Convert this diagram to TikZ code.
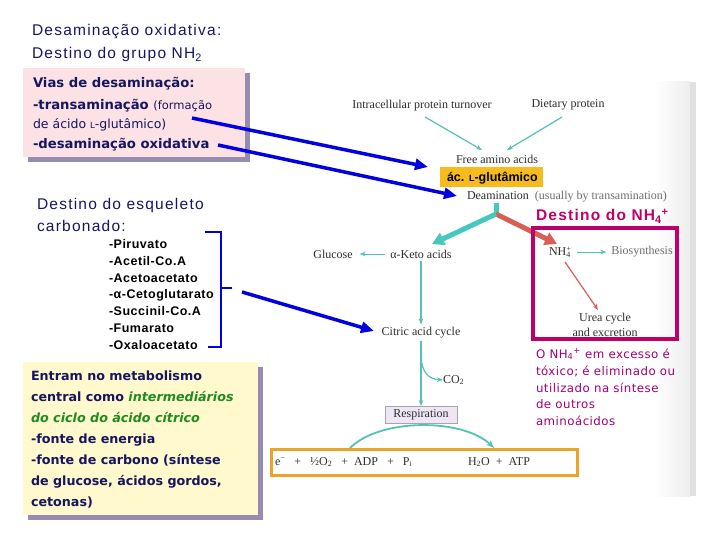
\documentclass[tikz,border=0pt]{standalone}
\usepackage{fontspec}
\setmainfont{Liberation Serif}
\newfontfamily\arialsp{Liberation Sans}[LetterSpace=8]
\newfontfamily\ariallst{Liberation Sans}[LetterSpace=4]
\newfontfamily\arialf{Liberation Sans}
\newfontfamily\comicf{DejaVu Sans}
\newfontfamily\comicsp{DejaVu Sans}[LetterSpace=4]
\usetikzlibrary{arrows.meta}
\definecolor{navy}{RGB}{22,22,96}
\definecolor{pinkfill}{RGB}{252,226,228}
\definecolor{shad}{RGB}{150,140,178}
\definecolor{yelfill}{RGB}{255,249,205}
\definecolor{bluearr}{RGB}{0,0,225}
\definecolor{grn}{RGB}{30,140,30}
\definecolor{tealc}{RGB}{85,192,180}
\definecolor{tealthick}{RGB}{70,200,190}
\definecolor{redc}{RGB}{215,95,85}
\definecolor{goldfill}{RGB}{246,188,30}
\definecolor{orangeb}{RGB}{234,165,40}
\definecolor{magb}{RGB}{190,0,105}
\definecolor{magt}{RGB}{160,0,120}
\definecolor{lav}{RGB}{238,230,244}
\definecolor{scant}{RGB}{45,45,45}
\definecolor{scanl}{RGB}{110,110,110}
\begin{document}
\begin{tikzpicture}[x=1pt,y=-1pt,
  every node/.style={inner sep=0pt, outer sep=0pt},
  ttl/.style={anchor=base west, font=\arialsp\fontsize{15.5}{17}\selectfont, text=navy},
  lst/.style={anchor=base west, font=\ariallst\bfseries\fontsize{12.5}{14}\selectfont, text=black},
  cmb/.style={anchor=base west, font=\comicf\bfseries\fontsize{13.2}{15}\selectfont, text=navy},
  ymb/.style={anchor=base west, font=\comicf\bfseries\fontsize{12.7}{15}\selectfont, text=navy},
  cmr/.style={anchor=base west, font=\comicf\fontsize{12.5}{14}\selectfont, text=navy},
  mt/.style={anchor=base west, font=\comicsp\fontsize{11.8}{13}\selectfont, text=magt},
  sc/.style={font=\fontsize{12}{13}\selectfont, text=scant},
  bluearrow/.style={draw=bluearr, line width=3.5pt, -{Triangle[length=13pt,width=11pt]}},
  tealthin/.style={draw=tealc, line width=1.2pt, -{Stealth[length=6pt,width=4.5pt]}},
  thickarr/.style={line width=5pt, -{Triangle[length=12pt,width=13pt]}}
]
\useasboundingbox (0,0) rectangle (720,540);
\fill[white] (0,0) rectangle (720,540);
% scan background edge
\shade[left color=white, right color=gray!14] (655,82) rectangle (690,496);
\fill[gray!24] (690,82) rectangle (696,496);

% title
\node[ttl] (t1) at (32,36) {Desaminação oxidativa:};
\node[ttl] (t2) at (32,59) {Destino do grupo NH\textsubscript{2}};

% pink box
\fill[shad] (28,73) rectangle (250,162);
\fill[pinkfill] (23,68) rectangle (245,157);
\node[cmb] (v1) at (33,88) {Vias de desaminação:};
\node[cmb] (v2) at (33,110) {-transaminação\ {\mdseries\fontsize{11.5}{13}\selectfont (formação}};
\node[cmr] (v3) at (33,129) {de ácido {\fontsize{8.5}{9}\selectfont L}-glutâmico)};
\node[cmb] (v4) at (33,149) {-desaminação oxidativa};

% esqueleto
\node[ttl] (e1) at (37,210) {Destino do esqueleto};
\node[ttl] (e2) at (37,232) {carbonado:};
\node[lst] (l1) at (109,248) {-Piruvato};
\node[lst] (l2) at (109,265) {-Acetil-Co.A};
\node[lst] (l3) at (109,282) {-Acetoacetato};
\node[lst] (l4) at (109,298) {-α-Cetoglutarato};
\node[lst] (l5) at (109,315) {-Succinil-Co.A};
\node[lst] (l6) at (109,332) {-Fumarato};
\node[lst] (l7) at (109,349) {-Oxaloacetato};
\draw[bluearr, line width=2.5pt] (205,232) -- (221,232) -- (221,347) -- (208,347);
\draw[bluearr, line width=2.5pt] (221,288) -- (232,288);

% yellow box
\fill[shad] (28,367) rectangle (263,520);
\fill[yelfill] (23,362) rectangle (258,515);
\node[ymb] (y1) at (31,380) {Entram no metabolismo};
\node[ymb] (y2) at (31,401) {central como {\color{grn}\itshape intermediários}};
\node[ymb, text=grn] (y3) at (31,422) {\itshape do ciclo do ácido cítrico};
\node[ymb] (y4) at (31,443) {-fonte de energia};
\node[ymb] (y5) at (31,464) {-fonte de carbono (síntese};
\node[ymb] (y6) at (31,485) {de glucose, ácidos gordos,};
\node[ymb] (y7) at (31,506) {cetonas)};

% scanned diagram
\node[sc] (ipt) at (422,106) {Intracellular protein turnover};
\node[sc] (dp) at (568,105) {Dietary protein};
\coordinate (ipts) at (425,117);
\coordinate (dps) at (562,117);
\coordinate (faal) at (482,150);
\coordinate (faar) at (507,150);
\draw[tealthin] (ipts) -- (faal);
\draw[tealthin] (dps) -- (faar);
\node[sc] (faa) at (497,159) {Free amino acids};
\fill[goldfill] (440,167) rectangle (543,187);
\node[anchor=base west, font=\arialf\bfseries\fontsize{12.5}{14}\selectfont] (glu) at (447,182) {ác. {\fontsize{9}{10}\selectfont L}-glutâmico};
\node[sc, anchor=base west] (deam) at (467,200) {Deamination\ \ {\color{scanl}(usually by transamination)}};
\coordinate (stub) at (496,203);
\coordinate (split) at (496,214);
\coordinate (ketotip) at (432,244);
\coordinate (nhtip) at (557,244);
\draw[tealthick, line width=5pt] (stub) -- (split);
\draw[thickarr, draw=redc, color=redc] (split) -- (nhtip);
\draw[thickarr, draw=tealthick, color=tealthick] (split) -- (ketotip);

\node[sc] (gluc) at (333,254) {Glucose};
\node[sc] (keto) at (421,254) {α-Keto acids};
\draw[tealthin, line width=0.9pt, shorten <=5pt, shorten >=7pt] (keto.west) -- (gluc.east);
\node[sc] (cac) at (421,333) {Citric acid cycle};
\draw[tealthin, shorten <=3pt, shorten >=3pt] (keto.south) -- (cac.north);
\node[sc, draw=gray!70, fill=lav, minimum width=72pt, minimum height=17pt] (resp) at (421,414.5) {Respiration};
\draw[tealthin, shorten <=3pt] (cac.south) -- (resp.north);
\node[sc, anchor=west] (co2) at (443,380) {CO\textsubscript{2}};
\coordinate (br) at (421,357);
\draw[tealthin] (br) .. controls (422,372) and (428,379) .. (co2.west);

\draw[orangeb, line width=3pt] (271,449) rectangle (577,475);
\node[sc, anchor=west] (eql) at (275,462) {e\textsuperscript{−}\ \ \ +\ \ \ ½O\textsubscript{2}\ \ \ +\ \ ADP\ \ \ +\ \ \ P\textsubscript{i}};
\node[sc, anchor=west] (eqr) at (468,462) {H\textsubscript{2}O\ \ +\ \ ATP};
\coordinate (arcs) at (350,448);
\coordinate (arce) at (494,448);
\draw[tealc, line width=1.8pt, -{Stealth[length=8pt,width=6pt]}] (arcs) .. controls (380,418) and (463,418) .. (arce);

% NH4 box
\node[anchor=base west, font=\arialsp\bfseries\fontsize{15.5}{17}\selectfont, text=magb] (dnh) at (536,221) {Destino do NH\textsubscript{4}\textsuperscript{+}};
\draw[magb, line width=3.5pt] (533,228) rectangle (677,339);
\node[sc, anchor=west] (nh4) at (549,252) {NH\makebox[0pt][l]{\textsuperscript{+}}\textsubscript{4}\hspace{1pt}};
\node[sc, text=scanl] (bio) at (642,252) {Biosynthesis};
\draw[tealthin, line width=0.8pt, shorten <=6pt, shorten >=5pt] (nh4.east) -- (bio.west);
\coordinate (nhs) at (565,262);
\coordinate (ureat) at (598,310);
\draw[redc, line width=1.2pt, -{Stealth[length=6pt,width=4.5pt]}] (nhs) -- (ureat);
\node[sc] (urea1) at (605,319) {Urea cycle};
\node[sc] (urea2) at (605,332) {and excretion};

\node[mt] (m1) at (536,358) {O NH\textsubscript{4}\textsuperscript{+} em excesso é};
\node[mt] (m2) at (536,375) {tóxico; é eliminado ou};
\node[mt] (m3) at (536,392) {utilizado na síntese};
\node[mt] (m4) at (536,408) {de outros};
\node[mt] (m5) at (536,425) {aminoácidos};

% blue arrows
\coordinate (a1s) at (192,118);
\coordinate (a1e) at (428,167);
\coordinate (a2s) at (218,145);
\coordinate (a2e) at (457,196);
\coordinate (a3s) at (242,292);
\coordinate (a3e) at (374,331);
\draw[bluearrow] (a1s) -- (a1e);
\draw[bluearrow] (a2s) -- (a2e);
\draw[bluearrow] (a3s) -- (a3e);
\end{tikzpicture}
\end{document}
